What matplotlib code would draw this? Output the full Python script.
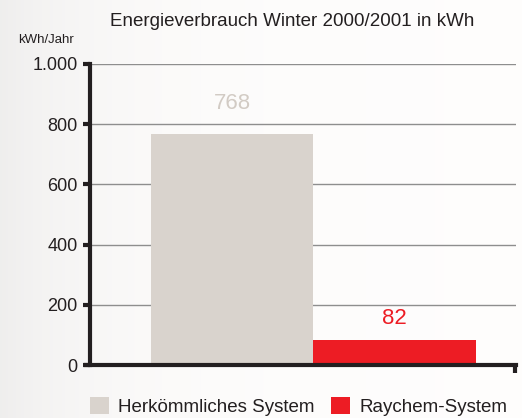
import matplotlib
matplotlib.use("Agg")
import matplotlib.pyplot as plt
from matplotlib.ticker import FuncFormatter
from matplotlib.patches import Patch
import numpy as np

plt.rcParams['font.family'] = ['Liberation Sans', 'DejaVu Sans']

categories = ['Herkömmliches System', 'Raychem-System']
values = [768, 82]
colors = ['#d9d3cd', '#ed1c24']
label_colors = ['#d2cbc4', '#ed1c24']
yticks = [0, 200, 400, 600, 800, 1000]
title = 'Energieverbrauch Winter 2000/2001 in kWh'
unit = 'kWh/Jahr'

fig = plt.figure(figsize=(5.22, 4.18), dpi=100)

# faint background wash, darker on the left
bg = fig.add_axes([0, 0, 1, 1], zorder=-10)
xs = np.linspace(0, 1, 200)
grad = np.clip(1 - 0.06 * np.exp(-xs / 0.2), 0, 1)
img = np.dstack([grad * 0.997, grad * 0.993, grad * 0.99])
img = np.repeat(img, 10, axis=0)
bg.imshow(img, aspect='auto', extent=[0, 1, 0, 1])
bg.axis('off')

ax = fig.add_axes([90 / 522, 53 / 418, 426 / 522, 301 / 418])
ax.patch.set_alpha(0)

x = np.arange(len(categories))
ax.bar(x, values, width=1.0, color=colors, zorder=3)
offsets = [65, 38]
for xi, v, c, off in zip(x, values, label_colors, offsets):
    ax.text(xi, v + off, str(v), ha='center', va='bottom', fontsize=16, color=c)

ax.set_xlim(-0.875, 1.747)
ax.set_ylim(0, 1000)
ax.set_yticks(yticks)
ax.yaxis.set_major_formatter(FuncFormatter(lambda v, p: f'{int(v):,}'.replace(',', '.')))
ax.set_xticks([])
ax.grid(axis='y', color='#8e8e8e', linewidth=1.0, zorder=1)
ax.tick_params(axis='y', length=5, width=3, color='#231f20', labelsize=13, pad=4, labelcolor='#231f20')

for s in ['top', 'right']:
    ax.spines[s].set_visible(False)
for s in ['left', 'bottom']:
    ax.spines[s].set_linewidth(3)
    ax.spines[s].set_color('#231f20')
    ax.spines[s].set_zorder(5)
ax.spines['bottom'].set_bounds(-0.875 - 4 / 162.5, 1.747)

# small closing tick at the right end of the baseline
ax.plot([0.997, 0.997], [0, -0.025], transform=ax.transAxes, color='#231f20', lw=3,
        clip_on=False, solid_capstyle='butt')

fig.text(292 / 522, 1 - 22 / 418, title, ha='center', va='center', fontsize=13.5, color='#231f20')
fig.text(46 / 522, 1 - 40 / 418, unit, ha='center', va='center', fontsize=9.5, color='#231f20')

handles = [Patch(facecolor=c, edgecolor='none') for c in colors]
fig.legend(handles, categories, loc='lower left', bbox_to_anchor=(73 / 522, -0.035), ncol=2, frameon=False,
           fontsize=13.5, handlelength=1.0, handleheight=1.0, handletextpad=0.5, columnspacing=0.9,
           labelcolor='#231f20')

fig.savefig('out.png', dpi=100)
